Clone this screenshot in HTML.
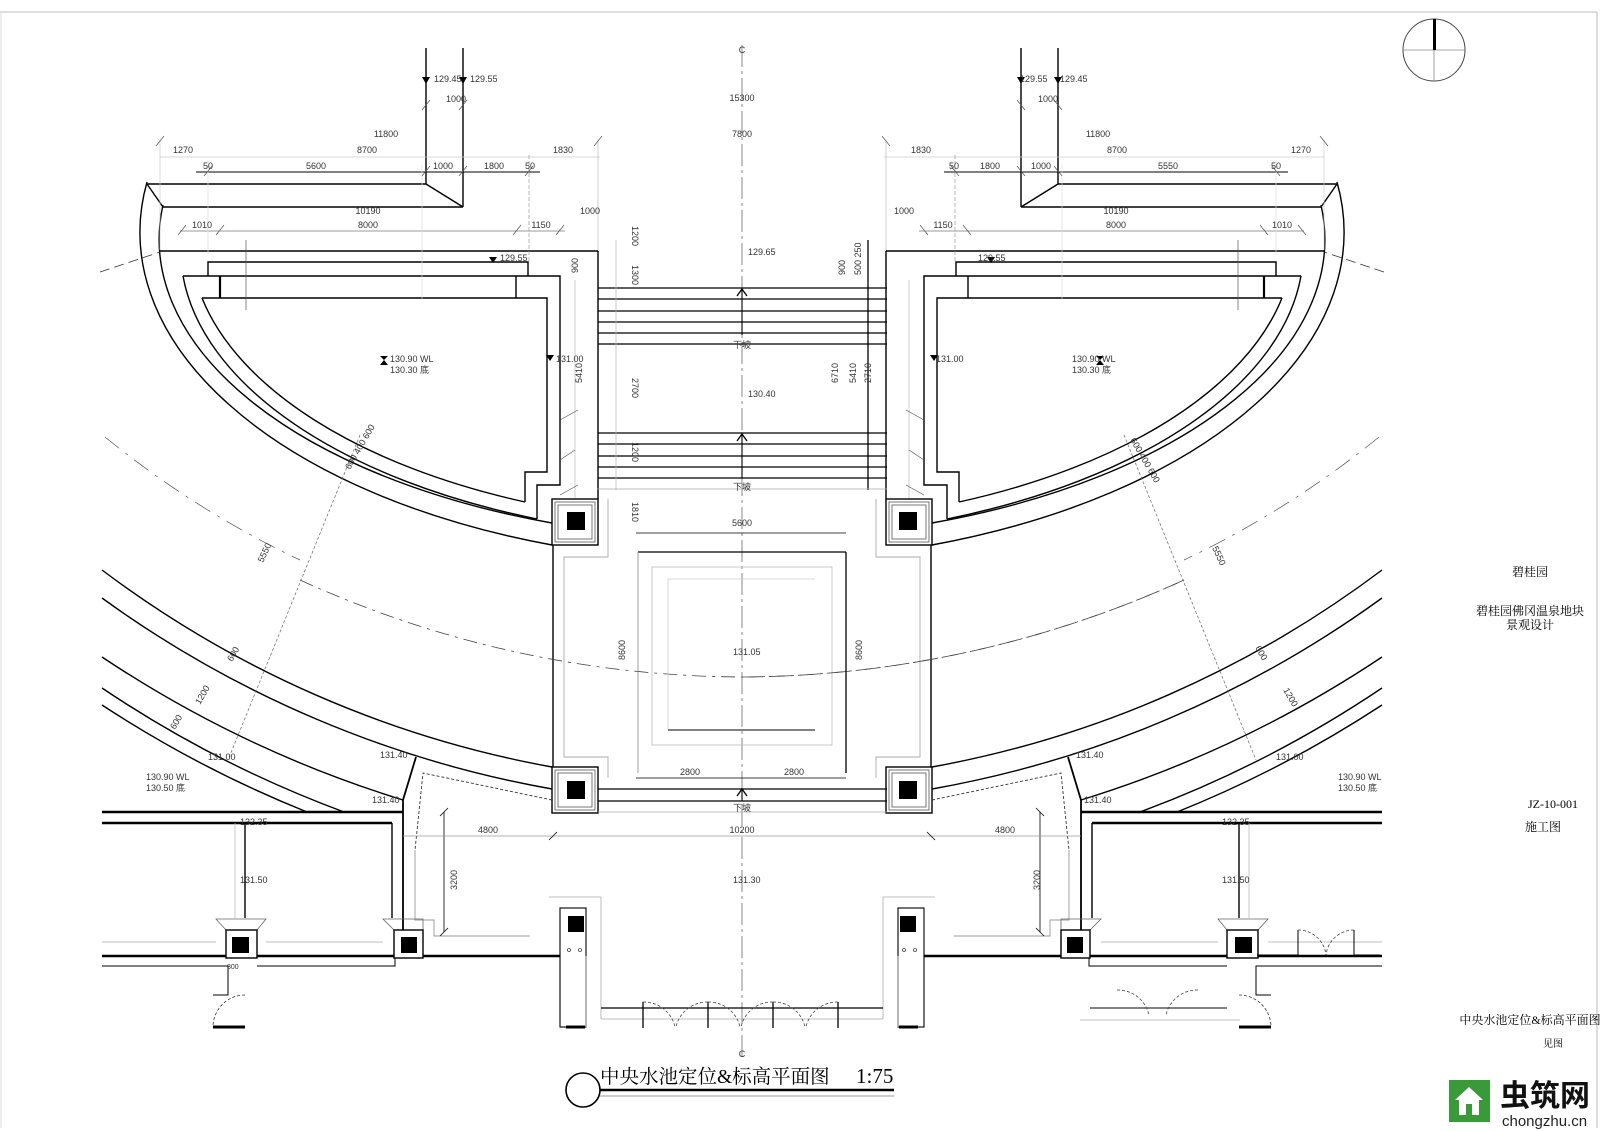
<!DOCTYPE html>
<html><head><meta charset="utf-8"><style>
html,body{margin:0;padding:0;background:#fff;}
svg{display:block;}
text{font-family:"Liberation Sans","Noto Sans CJK SC",sans-serif;fill:#333;}
.cn{font-family:"Liberation Serif","Noto Serif CJK SC","Noto Sans CJK SC",serif;fill:#000;}
</style></head><body>
<svg width="1600" height="1131" viewBox="0 0 1600 1131" xmlns="http://www.w3.org/2000/svg">
<rect width="1600" height="1131" fill="#fff"/>
<line x1="0" y1="12" x2="1597" y2="12" stroke="#bbb" stroke-width="1"/>
<line x1="1597" y1="12" x2="1597" y2="1128" stroke="#bbb" stroke-width="1"/>
<line x1="1" y1="12" x2="1" y2="1128" stroke="#ddd" stroke-width="1"/>
<circle cx="1434" cy="50" r="31" fill="none" stroke="#444" stroke-width="1"/>
<line x1="1403" y1="50" x2="1465" y2="50" stroke="#888" stroke-width="0.8"/>
<line x1="1434" y1="19" x2="1434" y2="81" stroke="#888" stroke-width="0.8"/>
<rect x="1433" y="19" width="3" height="31" fill="#000"/>

<defs>
<g id="L" fill="none" stroke="#000" stroke-width="1.4">
  <line x1="426" y1="48" x2="426" y2="184"/>
  <line x1="463" y1="48" x2="463" y2="207"/>
  <line x1="426" y1="184" x2="463" y2="207"/>
  <line x1="147" y1="184" x2="426" y2="184"/>
  <line x1="163" y1="207" x2="463" y2="207"/>
  <line x1="147" y1="184" x2="163" y2="207"/>
  <path d="M147,182 A605,330 0 0 0 552,545"/>
  <path d="M163,205 A583,300 0 0 0 552,523"/>
  <path d="M183,276 A563,290 0 0 0 537,519"/>
  <path d="M202,298 A551,285 0 0 0 525,502"/>
  <line x1="160" y1="251" x2="598" y2="251"/>
  <line x1="598" y1="251" x2="598" y2="499"/>
  <polyline points="183,276 560,276 560,485 537,485 537,519"/>
  <polyline points="202,298 547,298 547,472 525,472 525,502"/>
  <polyline points="208,276 208,262 528,262 528,276"/>
  <line x1="220" y1="276" x2="220" y2="298" stroke-width="2.2"/>
  <line x1="516" y1="276" x2="516" y2="298"/>
  <g stroke="#555" stroke-width="0.7">
    <line x1="196" y1="172" x2="540" y2="172" stroke="#000" stroke-width="1.1"/>
    <line x1="160" y1="157" x2="600" y2="157" stroke="#ccc"/>
    <line x1="180" y1="231" x2="565" y2="231" stroke="#777"/>
    <line x1="160" y1="140" x2="160" y2="250" stroke="#ccc"/>
    <line x1="598" y1="140" x2="598" y2="250" stroke="#bbb"/>
    <line x1="529" y1="155" x2="529" y2="262" stroke="#999" stroke-dasharray="4,2"/>
    <line x1="208" y1="160" x2="208" y2="255" stroke="#ddd"/>
    <line x1="422" y1="165" x2="422" y2="300" stroke="#ddd"/>
    <line x1="156" y1="146" x2="164" y2="136"/><line x1="594" y1="146" x2="602" y2="136"/>
    <line x1="204" y1="176" x2="212" y2="166"/><line x1="422" y1="176" x2="430" y2="166"/>
    <line x1="459" y1="176" x2="467" y2="166"/><line x1="525" y1="176" x2="533" y2="166"/>
    <line x1="178" y1="235" x2="186" y2="225"/><line x1="216" y1="235" x2="224" y2="225"/>
    <line x1="513" y1="235" x2="521" y2="225"/><line x1="556" y1="235" x2="564" y2="225"/>
    <line x1="422" y1="110" x2="430" y2="100"/><line x1="459" y1="110" x2="467" y2="100"/>
    <line x1="246" y1="240" x2="246" y2="310"/>
    <line x1="575" y1="280" x2="575" y2="520" stroke="#bbb"/>
    <line x1="560" y1="460" x2="575" y2="450" /><line x1="560" y1="420" x2="578" y2="410"/>
    <line x1="560" y1="495" x2="578" y2="485"/>
  </g>
  <path d="M422,77 L430,77 L426,84 Z" fill="#000" stroke="none"/>
  <path d="M459,77 L467,77 L463,84 Z" fill="#000" stroke="none"/>
  <path d="M489,257 L497,257 L493,263 Z" fill="#000" stroke="none"/>
  <path d="M546,355 L554,355 L550,361 Z" fill="#000" stroke="none"/>
  <path d="M380,356 L388,356 L384,360 L388,365 L380,365 L384,360 Z" fill="#000" stroke="none"/>
  <rect x="552" y="499" width="46" height="46" fill="#fff"/>
  <rect x="555" y="502" width="40" height="40" stroke="#555" stroke-width="0.8"/>
  <rect x="558" y="505" width="34" height="34" stroke="#555" stroke-width="0.8"/>
  <rect x="567" y="512" width="18" height="18" fill="#000" stroke="none"/>
  <rect x="552" y="767" width="46" height="46" fill="#fff"/>
  <rect x="555" y="770" width="40" height="40" stroke="#555" stroke-width="0.8"/>
  <rect x="558" y="773" width="34" height="34" stroke="#555" stroke-width="0.8"/>
  <rect x="567" y="781" width="18" height="18" fill="#000" stroke="none"/>
  <line x1="553" y1="545" x2="553" y2="767"/>
  <polyline points="608,499 608,557 564,557 564,757 608,757 608,778" stroke="#aaa" stroke-width="0.9"/>
  <path d="M102,570 A1064,1064 0 0 0 552,767"/>
  <path d="M102,598 A1091,1091 0 0 0 552,789"/>
  <path d="M102,657 A1153,1153 0 0 0 403,800"/>
  <path d="M102,688 A1146,1146 0 0 0 344,812"/>
  <path d="M102,705 A1167,1167 0 0 0 307,812"/>
  <line x1="416" y1="757" x2="403" y2="800" stroke-width="1.8"/>
  <polyline points="552,800 423,773 415,850" stroke="#333" stroke-width="0.9" stroke-dasharray="3,2"/>
  <path d="M300,580 A1077,1077 0 0 0 742,677" stroke="#444" stroke-width="0.8" stroke-dasharray="14,6,3,6"/>
  <path d="M105,437 A960,960 0 0 0 300,560" stroke="#555" stroke-width="0.7" stroke-dasharray="18,8,3,8"/>
  <line x1="100" y1="272" x2="160" y2="252" stroke="#333" stroke-width="0.8" stroke-dasharray="10,5"/>
  <line x1="360" y1="435" x2="228" y2="760" stroke="#666" stroke-width="0.7" stroke-dasharray="3,2"/>
  <line x1="102" y1="812" x2="403" y2="812" stroke-width="2.4"/>
  <line x1="102" y1="823" x2="392" y2="823" stroke-width="2.4"/>
  <line x1="392" y1="823" x2="392" y2="918"/>
  <line x1="403" y1="800" x2="403" y2="930" stroke-width="1.8"/>
  <polyline points="415,850 415,920 434,920 434,936 530,936" stroke="#999" stroke-width="0.9"/>
  <line x1="245" y1="823" x2="245" y2="918"/>
  <line x1="235" y1="823" x2="235" y2="918" stroke="#bbb" stroke-width="0.8"/>
  <line x1="102" y1="956" x2="560" y2="956" stroke-width="2.4"/>
  <line x1="102" y1="942" x2="216" y2="942" stroke="#aaa" stroke-width="0.8"/>
  <line x1="266" y1="942" x2="383" y2="942" stroke="#aaa" stroke-width="0.8"/>
  <polyline points="102,966 228,966 228,995 213,995" stroke-width="1"/>
  <polyline points="257,966 395,966 395,956" stroke-width="1"/>
  <path d="M245,995 A32,32 0 0 0 213,1027" stroke="#333" stroke-width="0.8" stroke-dasharray="3,2"/>
  <line x1="213" y1="1027" x2="245" y2="1027" stroke-width="3"/>
  <polygon points="216,919 266,919 257,930 226,930" stroke="#666" stroke-width="0.8"/>
  <rect x="226" y="930" width="31" height="28" fill="#fff"/>
  <rect x="232" y="937" width="17" height="16" fill="#000" stroke="none"/>
  <polygon points="383,919 423,919 423,930 394,930" stroke="#666" stroke-width="0.8"/>
  <rect x="394" y="930" width="29" height="28" fill="#fff"/>
  <rect x="401" y="937" width="16" height="16" fill="#000" stroke="none"/>
  <line x1="444" y1="812" x2="444" y2="932" stroke-width="0.8"/>
  <line x1="403" y1="836" x2="742" y2="836" stroke="#999" stroke-width="0.7"/>
  <line x1="440" y1="816" x2="448" y2="808" stroke-width="0.8"/><line x1="440" y1="936" x2="448" y2="928" stroke-width="0.8"/>
  <line x1="549" y1="840" x2="557" y2="832" stroke-width="0.8"/>
  <polyline points="549,897 601,897" stroke="#aaa" stroke-width="0.8"/>
  <rect x="560" y="908" width="26" height="119" fill="#fff" stroke-width="1.1"/>
  <rect x="568" y="916" width="16" height="16" fill="#000" stroke="none"/>
  <line x1="566" y1="1027" x2="585" y2="1027" stroke-width="3"/>
  <line x1="586" y1="956" x2="586" y2="1027" stroke="#aaa" stroke-width="0.8"/>
  <circle cx="569" cy="950" r="1.5" stroke-width="0.6"/><circle cx="580" cy="950" r="1.5" stroke-width="0.6"/>
  <line x1="601" y1="897" x2="601" y2="1019" stroke="#aaa" stroke-width="0.8"/>
</g>
</defs>
<use href="#L"/>
<use href="#L" transform="translate(1484,0) scale(-1,1)"/>

<g fill="none" stroke="#000" stroke-width="1.3">
  <line x1="742" y1="45" x2="742" y2="1060" stroke="#555" stroke-width="0.7" stroke-dasharray="22,4,3,4"/>
  <g>
    <line x1="598" y1="288" x2="887" y2="288"/><line x1="598" y1="299" x2="887" y2="299"/>
    <line x1="598" y1="311" x2="887" y2="311"/><line x1="598" y1="322" x2="887" y2="322"/>
    <line x1="598" y1="333" x2="887" y2="333"/><line x1="598" y1="344" x2="887" y2="344"/>
    <line x1="598" y1="433" x2="887" y2="433"/><line x1="598" y1="444" x2="887" y2="444"/>
    <line x1="598" y1="456" x2="887" y2="456"/><line x1="598" y1="467" x2="887" y2="467"/>
    <line x1="598" y1="478" x2="887" y2="478"/>
    <line x1="868" y1="240" x2="868" y2="490"/>
    <line x1="616" y1="240" x2="616" y2="490" stroke="#bbb" stroke-width="0.8"/>
    <line x1="597" y1="489" x2="887" y2="489" stroke="#aaa" stroke-width="0.8"/>
  </g>
  <line x1="742" y1="290" x2="742" y2="335" stroke-width="1.1"/><path d="M737,296 L742,289 L747,296" />
  <line x1="742" y1="435" x2="742" y2="478" stroke-width="1.1"/><path d="M737,441 L742,434 L747,441" />
  <line x1="638" y1="552" x2="846" y2="552"/>
  <line x1="846" y1="552" x2="846" y2="773"/>
  <line x1="638" y1="552" x2="638" y2="773" stroke="#888" stroke-width="0.8"/>
  <rect x="652" y="567" width="180" height="178" stroke="#bbb" stroke-width="0.8"/>
  <polyline points="668,730 668,579 815,579" stroke="#ccc" stroke-width="0.8"/>
  <line x1="668" y1="730" x2="815" y2="730" stroke-width="1"/>
  <line x1="636" y1="533" x2="846" y2="533" stroke-width="0.8"/>
  <line x1="636" y1="778" x2="846" y2="778" stroke-width="0.8"/>
  <line x1="598" y1="789" x2="887" y2="789"/>
  <line x1="598" y1="801" x2="887" y2="801"/>
  <line x1="598" y1="812" x2="887" y2="812" stroke="#aaa" stroke-width="0.8"/>
  <line x1="742" y1="788" x2="742" y2="801" stroke-width="1.1"/><path d="M737,796 L742,789 L747,796"/>
  <path d="M742,677 A1077,1077 0 0 0 1184,580" stroke="#444" stroke-width="0.8" stroke-dasharray="14,6,3,6"/>
  <line x1="601" y1="1008" x2="883" y2="1008"/>
  <line x1="601" y1="1019" x2="883" y2="1019" stroke="#aaa" stroke-width="0.8"/>
  <line x1="643" y1="1002" x2="643" y2="1028"/><line x1="708" y1="1002" x2="708" y2="1028"/>
  <line x1="773" y1="1002" x2="773" y2="1028"/><line x1="838" y1="1002" x2="838" y2="1028"/>
  <g stroke="#444" stroke-width="0.8" stroke-dasharray="3,2">
    <path d="M643,1002 A32,32 0 0 1 675,1027"/><path d="M708,1002 A32,32 0 0 0 676,1027"/>
    <path d="M708,1002 A32,32 0 0 1 740,1027"/><path d="M773,1002 A32,32 0 0 0 741,1027"/>
    <path d="M773,1002 A32,32 0 0 1 805,1027"/><path d="M838,1002 A32,32 0 0 0 806,1027"/>
  </g>
  <line x1="1090" y1="1008" x2="1227" y2="1008" stroke-width="1.1"/>
  <line x1="1080" y1="1020" x2="1240" y2="1020" stroke="#aaa" stroke-width="0.8"/>
  <g stroke="#444" stroke-width="0.8" stroke-dasharray="3,2">
    <path d="M1117,990 A32,32 0 0 1 1149,1015"/><path d="M1198,990 A32,32 0 0 0 1166,1015"/>
    <path d="M1298,930 A28,28 0 0 1 1326,955"/><path d="M1354,930 A28,28 0 0 0 1326,955"/>
  </g>
  <polyline points="1257,955 1298,955 1298,930" stroke-width="1"/>
  <polyline points="1354,930 1354,955 1380,955" stroke-width="1"/>
  <circle cx="583" cy="1090" r="17" stroke-width="1.6"/>
  <line x1="600" y1="1090" x2="894" y2="1090" stroke-width="2.6"/>
  <line x1="600" y1="1096" x2="894" y2="1096" stroke="#777" stroke-width="0.8"/>
</g>

<g font-size="9" fill="#444">
  <text x="742" y="53" text-anchor="middle">C</text>
  <text x="742" y="1057" text-anchor="middle">C</text>
  <text x="742" y="101" text-anchor="middle">15300</text>
  <text x="742" y="137" text-anchor="middle">7800</text>
  <text x="748" y="255">129.65</text>
  <text x="748" y="397">130.40</text>
  <text x="742" y="348" text-anchor="middle">下坡</text>
  <text x="742" y="490" text-anchor="middle">下坡</text>
  <text x="742" y="811" text-anchor="middle">下坡</text>
  <text x="742" y="526" text-anchor="middle">5600</text>
  <text x="733" y="655">131.05</text>
  <text x="690" y="775" text-anchor="middle">2800</text>
  <text x="794" y="775" text-anchor="middle">2800</text>
  <text x="742" y="833" text-anchor="middle">10200</text>
  <text x="733" y="883">131.30</text>
  <text x="478" y="833">4800</text>
  <text x="995" y="833">4800</text>
  <text x="434" y="82">129.45</text><text x="470" y="82">129.55</text>
  <text x="446" y="102">1000</text>
  <text x="386" y="137" text-anchor="middle">11800</text>
  <text x="183" y="153" text-anchor="middle">1270</text><text x="367" y="153" text-anchor="middle">8700</text><text x="563" y="153" text-anchor="middle">1830</text>
  <text x="208" y="169" text-anchor="middle">50</text><text x="316" y="169" text-anchor="middle">5600</text><text x="443" y="169" text-anchor="middle">1000</text><text x="494" y="169" text-anchor="middle">1800</text><text x="530" y="169" text-anchor="middle">50</text>
  <text x="368" y="214" text-anchor="middle">10190</text>
  <text x="202" y="228" text-anchor="middle">1010</text><text x="368" y="228" text-anchor="middle">8000</text><text x="541" y="228" text-anchor="middle">1150</text><text x="590" y="214" text-anchor="middle">1000</text>
  <text x="500" y="261">129.55</text>
  <text x="390" y="362">130.90 WL</text><text x="390" y="373">130.30 底</text>
  <text x="556" y="362">131.00</text>
  <text x="1020" y="82">129.55</text><text x="1060" y="82">129.45</text>
  <text x="1038" y="102">1000</text>
  <text x="1098" y="137" text-anchor="middle">11800</text>
  <text x="1301" y="153" text-anchor="middle">1270</text><text x="1117" y="153" text-anchor="middle">8700</text><text x="921" y="153" text-anchor="middle">1830</text>
  <text x="1276" y="169" text-anchor="middle">50</text><text x="1168" y="169" text-anchor="middle">5550</text><text x="1041" y="169" text-anchor="middle">1000</text><text x="990" y="169" text-anchor="middle">1800</text><text x="954" y="169" text-anchor="middle">50</text>
  <text x="1116" y="214" text-anchor="middle">10190</text>
  <text x="1282" y="228" text-anchor="middle">1010</text><text x="1116" y="228" text-anchor="middle">8000</text><text x="943" y="228" text-anchor="middle">1150</text><text x="904" y="214" text-anchor="middle">1000</text>
  <text x="978" y="261">129.55</text>
  <text x="1072" y="362">130.90 WL</text><text x="1072" y="373">130.30 底</text>
  <text x="936" y="362">131.00</text>
  <text x="146" y="780">130.90 WL</text><text x="146" y="791">130.50 底</text>
  <text x="1338" y="780">130.90 WL</text><text x="1338" y="791">130.50 底</text>
  <text x="208" y="760">131.00</text><text x="1276" y="760">131.00</text>
  <text x="380" y="758">131.40</text><text x="1076" y="758">131.40</text>
  <text x="372" y="803">131.40</text><text x="1084" y="803">131.40</text>
  <text x="240" y="825">132.35</text><text x="1222" y="825">132.35</text>
  <text x="240" y="883">131.50</text><text x="1222" y="883">131.50</text>
  <text x="227" y="969" font-size="7">300</text>
</g>
<g font-size="9" fill="#555">
  <text transform="translate(632,226) rotate(90)">1200</text>
  <text transform="translate(632,265) rotate(90)">1300</text>
  <text transform="translate(632,378) rotate(90)">2700</text>
  <text transform="translate(632,442) rotate(90)">1200</text>
  <text transform="translate(632,502) rotate(90)">1810</text>
  <text transform="translate(582,383) rotate(-90)">5410</text>
  <text transform="translate(578,273) rotate(-90)">900</text>
  <text transform="translate(838,383) rotate(-90)">6710</text>
  <text transform="translate(856,383) rotate(-90)">5410</text>
  <text transform="translate(871,383) rotate(-90)">2710</text>
  <text transform="translate(845,275) rotate(-90)">900</text>
  <text transform="translate(861,275) rotate(-90)">500 250</text>
  <text transform="translate(625,660) rotate(-90)">8600</text>
  <text transform="translate(862,660) rotate(-90)">8600</text>
  <text transform="translate(457,890) rotate(-90)">3200</text>
  <text transform="translate(1040,890) rotate(-90)">3200</text>
  <text transform="translate(263,563) rotate(-65)">5550</text>
  <text transform="translate(1212,548) rotate(65)">5550</text>
  <text transform="translate(232,662) rotate(-60)">600</text>
  <text transform="translate(200,705) rotate(-60)">1200</text>
  <text transform="translate(175,730) rotate(-60)">600</text>
  <text transform="translate(350,470) rotate(-60)">600 400 600</text>
  <text transform="translate(1130,440) rotate(60)">600 400 600</text>
  <text transform="translate(1255,648) rotate(60)">600</text>
  <text transform="translate(1283,690) rotate(60)">1200</text>
</g>
<text x="600" y="1083" class="cn" font-size="19.5">中央水池定位&amp;标高平面图</text>
<text x="856" y="1083" class="cn" font-size="21">1:75</text>
<g class="cn" font-size="12" text-anchor="middle">
  <text x="1530" y="576" class="cn">碧桂园</text>
  <text x="1530" y="615" class="cn">碧桂园佛冈温泉地块</text>
  <text x="1530" y="629" class="cn">景观设计</text>
  <text x="1553" y="808" class="cn">JZ-10-001</text>
  <text x="1543" y="831" class="cn">施工图</text>
  <text x="1530" y="1024" class="cn">中央水池定位&amp;标高平面图</text>
  <text x="1553" y="1047" class="cn" font-size="10">见图</text>
</g>
<rect x="1449" y="1080" width="41" height="42" fill="#3a9a3a"/>
<path d="M1455,1100 L1469,1087 L1483,1100 L1479,1100 L1479,1115 L1459,1115 L1459,1100 Z" fill="#fff"/>
<rect x="1466" y="1104" width="6" height="11" fill="#3a9a3a"/>
<text x="1500" y="1106" font-size="30" font-weight="bold" style="font-family:'Noto Sans CJK SC',sans-serif;fill:#111">虫筑网</text>
<text x="1502" y="1126" font-size="15" style="fill:#222">chongzhu.cn</text>
</svg>
</body></html>
